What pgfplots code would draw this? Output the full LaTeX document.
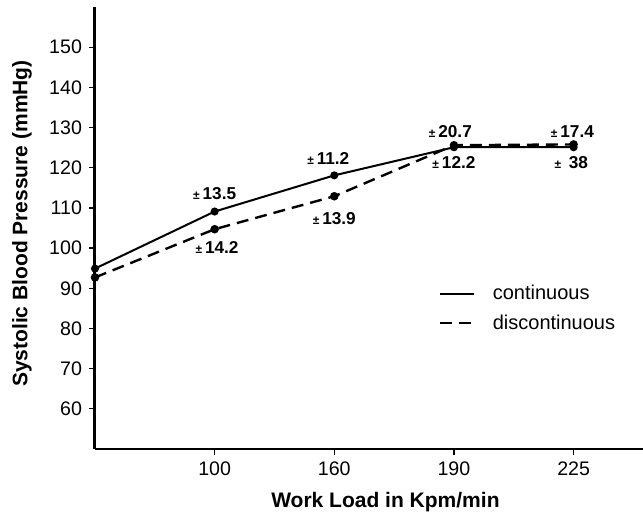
\documentclass[border=0pt]{standalone}
\usepackage{fontspec}
\setmainfont{Liberation Sans}
\usepackage{pgfplots}
\pgfplotsset{compat=1.18}

% small plus-minus sign in front of the SD values
\newcommand\pmm{{\fontsize{6pt}{6pt}\selectfont ±}\,}

\begin{document}
\begin{tikzpicture}
\begin{axis}[
  width=274pt, height=221pt, scale only axis,
  xmin=0, xmax=4.58, ymin=50, ymax=160,
  axis x line*=bottom, axis y line*=left,
  axis line style={-},
  x axis line style={line width=1pt},
  y axis line style={line width=1.5pt},
  xtick={1,2,3,4}, xticklabels={100,160,190,225},
  ytick={60,70,...,150},
  tick align=outside, major tick length=3pt,
  tick style={black, line width=0.6pt},
  /pgf/number format/assume math mode=true,
  ticklabel style={font=\fontsize{9.8}{11}\selectfont},
  xlabel={Work Load in Kpm/min},
  ylabel={Systolic Blood Pressure (mmHg)},
  label style={font=\bfseries\fontsize{10.5}{12}\selectfont},
  xlabel style={at={(axis description cs:0.53,-0.12)}, anchor=center},
  ylabel style={at={(axis description cs:-0.133,0.51)}, anchor=center},
  clip=false,
  legend style={at={(axis description cs:0.615,0.39)}, anchor=north west,
    draw=none, fill=none, font=\fontsize{10}{12}\selectfont, row sep=2pt},
  legend cell align=left,
  legend image code/.code={\draw[#1] (0pt,0pt) -- (17pt,0pt);},
  /tikz/every odd column/.append style={column sep=7pt},
]
% continuous
\addplot[black, line width=1pt, mark=*, mark size=1.5pt]
  coordinates {(0,94.9) (1,109.1) (2,118.1) (3,125.1) (4,125.1)};
% discontinuous
\addplot[black, line width=1.2pt, dash pattern=on 6pt off 3.5pt,
  mark=*, mark size=1.5pt, mark options={solid}]
  coordinates {(0,92.7) (1,104.7) (2,112.9) (3,125.6) (4,125.8)};
\legend{continuous, discontinuous}

\begin{scope}[font=\bfseries\fontsize{8.6}{9}\selectfont]
\node at (axis cs:1.0,113.6) {\pmm13.5};
\node at (axis cs:1.02,100.1) {\pmm14.2};
\node at (axis cs:1.95,122.3) {\pmm11.2};
\node at (axis cs:2.0,107.4) {\pmm13.9};
\node at (axis cs:2.97,129.1) {\pmm20.7};
\node at (axis cs:3.0,121.3) {\pmm12.2};
\node at (axis cs:3.99,129.1) {\pmm17.4};
\node at (axis cs:3.98,121.3) {\pmm\ 38};
\end{scope}

\coordinate (sw) at (rel axis cs:0,0);
\coordinate (ne) at (rel axis cs:1,1);
\end{axis}
\pgfresetboundingbox
\path ([xshift=-47.5pt,yshift=-33pt]sw) rectangle ([yshift=3.5pt]ne);
\end{tikzpicture}
\end{document}
